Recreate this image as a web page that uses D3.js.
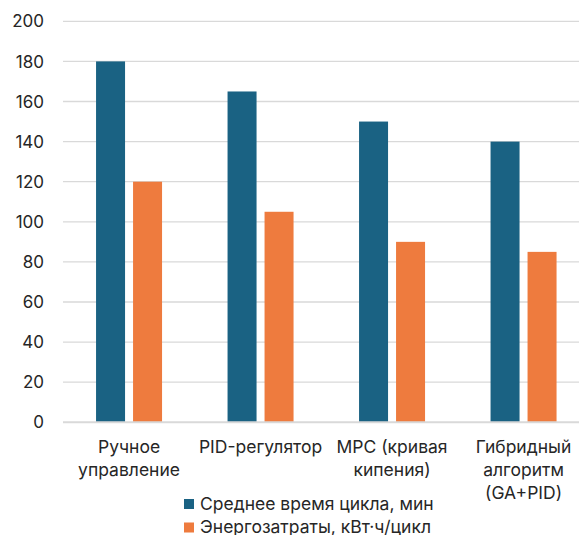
<!DOCTYPE html>
<html>
<head>
<meta charset="utf-8">
<script src="https://cdn.jsdelivr.net/npm/d3@7"></script>
<style>
  body { margin: 0; background: #fff; }
  text { font-family: Inter, "Noto Sans", sans-serif; fill: #262626; }
</style>
</head>
<body>
<svg id="chart" width="579" height="535"></svg>
<script>
// data
var categories = [
    ["Ручное", "управление"],
    ["PID-регулятор"],
    ["MPC (кривая", "кипения)"],
    ["Гибридный", "алгоритм", "(GA+PID)"]
];
var cycleTime = [180, 165, 150, 140];
var energy = [120, 105, 90, 85];
var seriesNames = ["Среднее время цикла, мин", "Энергозатраты, кВт·ч/цикл"];
var seriesColors = ["#1a6283", "#ee7b3e"];
var yTicks = [0, 20, 40, 60, 80, 100, 120, 140, 160, 180, 200];

var svg = d3.select("#chart");
var W = 579;

var x0 = d3.scaleBand()
    .domain(d3.range(categories.length))
    .range([63.3, 589.3]);

var x1 = d3.scaleBand()
    .domain([0, 1])
    .range([-33, 33])
    .paddingInner(8 / 37);

var y = d3.scaleLinear()
    .domain([0, 200])
    .range([422.3, 21.3]);

// gridlines
svg.append("g")
    .selectAll("line")
    .data(yTicks.filter(function(d) { return d > 0; }))
    .enter()
    .append("line")
    .attr("x1", 63)
    .attr("x2", W)
    .attr("y1", function(d) { return y(d); })
    .attr("y2", function(d) { return y(d); })
    .style("stroke", "#d9d9d9")
    .style("stroke-width", 1.3);

// y tick labels
svg.append("g")
    .selectAll("text")
    .data(yTicks)
    .enter()
    .append("text")
    .attr("x", 44)
    .attr("y", function(d) { return y(d); })
    .attr("dy", "0.36em")
    .attr("text-anchor", "end")
    .style("font-size", "17px")
    .text(function(d) { return d; });

// bars
var rows = categories.map(function(c, i) { return [cycleTime[i], energy[i]]; });

var grp = svg.append("g")
    .selectAll("g")
    .data(rows)
    .enter()
    .append("g")
    .attr("transform", function(d, i) {
        return "translate(" + (x0(i) + x0.bandwidth() / 2) + ",0)";
    });

grp.selectAll("rect")
    .data(function(d) { return d; })
    .enter()
    .append("rect")
    .attr("x", function(d, j) { return x1(j); })
    .attr("width", x1.bandwidth())
    .attr("y", function(d) { return y(d); })
    .attr("height", function(d) { return y(0) - y(d); })
    .style("fill", function(d, j) { return seriesColors[j]; });

// zero axis line
svg.append("line")
    .attr("x1", 63)
    .attr("x2", W)
    .attr("y1", y(0))
    .attr("y2", y(0))
    .style("stroke", "#d9d9d9")
    .style("stroke-width", 2);

// category labels
var lab = svg.append("g")
    .selectAll("text")
    .data(categories)
    .enter()
    .append("text")
    .attr("text-anchor", "middle")
    .style("font-size", "17.5px");

lab.selectAll("tspan")
    .data(function(d, i) {
        return d.map(function(s) { return { s: s, i: i }; });
    })
    .enter()
    .append("tspan")
    .attr("x", function(d) { return x0(d.i) + x0.bandwidth() / 2; })
    .attr("y", function(d, k) { return 453 + k * 23; })
    .text(function(d) { return d.s; });

// legend
var leg = svg.append("g")
    .selectAll("g")
    .data(seriesNames)
    .enter()
    .append("g")
    .attr("transform", function(d, i) { return "translate(184," + (499 + i * 23.5) + ")"; });

leg.append("rect")
    .attr("width", 10)
    .attr("height", 10)
    .style("fill", function(d, i) { return seriesColors[i]; });

leg.append("text")
    .attr("x", 16)
    .attr("y", 10.5)
    .style("font-size", "17.5px")
    .text(function(d) { return d; });
</script>
</body>
</html>
